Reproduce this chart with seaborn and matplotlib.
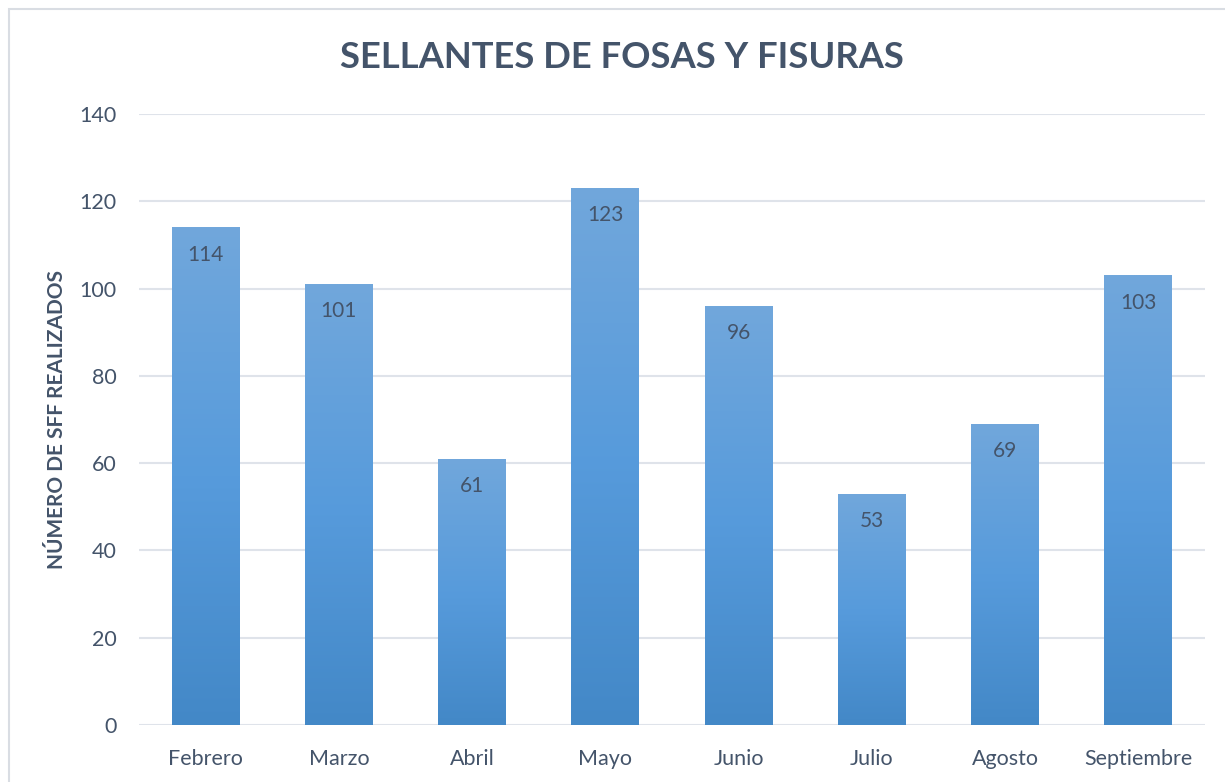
import matplotlib
matplotlib.use("Agg")
import matplotlib.pyplot as plt
import numpy as np
import pandas as pd
import seaborn as sns
from matplotlib.colors import LinearSegmentedColormap
from matplotlib.patches import Rectangle

months = ["Febrero", "Marzo", "Abril", "Mayo", "Junio", "Julio", "Agosto", "Septiembre"]
values = [114, 101, 61, 123, 96, 53, 69, 103]
yticks = [0, 20, 40, 60, 80, 100, 120, 140]

title = "SELLANTES DE FOSAS Y FISURAS"
ylabel = "NÚMERO DE SFF REALIZADOS"

sns.set_theme(style="white")
plt.rcParams['font.family'] = ['Lato', 'DejaVu Sans']

txt = "#44546a"
df = pd.DataFrame({"mes": months, "n": values})

fig = plt.figure(figsize=(12.25, 7.82), dpi=100)
ax = fig.add_axes([139/1225, 1-725/782, (1205-139)/1225, (725-114)/782])

sns.barplot(data=df, x="mes", y="n", ax=ax, width=0.51, color="#5b9bd5", saturation=1)

cmap = LinearSegmentedColormap.from_list("g", ["#4388c7", "#579bdc", "#71a7db"])
grad = np.linspace(0, 1, 256).reshape(-1, 1)
for p in ax.patches:
    x0, y0 = p.get_x(), p.get_y()
    w, h = p.get_width(), p.get_height()
    p.set_facecolor("none")
    p.set_edgecolor("none")
    im = ax.imshow(grad, cmap=cmap, extent=[x0, x0 + w, y0, y0 + h],
                   aspect="auto", origin="lower", zorder=2)
    clip = Rectangle((x0, y0), w, h, transform=ax.transData)
    im.set_clip_path(clip)

for i, v in enumerate(values):
    ax.text(i, v - 6.2, str(v), ha="center", va="center", fontsize=15, color=txt, zorder=3)

ax.set_xlim(-0.5, 7.5)
ax.set_ylim(0, 140)
ax.set_yticks(yticks)
ax.yaxis.grid(True, color="#dfe3ea", linewidth=1.5)
ax.set_axisbelow(True)
for s in ax.spines.values():
    s.set_visible(False)
ax.tick_params(axis="both", length=0, labelsize=15.5, labelcolor=txt)
ax.tick_params(axis="y", pad=16)
ax.tick_params(axis="x", pad=17)
ax.set_xlabel("")
ax.set_ylabel(ylabel, fontsize=15, fontweight="bold", color=txt, labelpad=9)

fig.text(622/1225, 1-58/782, title, ha="center", va="center", fontsize=26.2,
         fontweight="bold", color=txt)

fig.patches.append(Rectangle((9/1225, -0.1), 1.5, 1 - 9/782 + 0.1, transform=fig.transFigure,
                             fill=False, edgecolor="#d9dde3", linewidth=1.5))

fig.savefig("out.png", dpi=100)
